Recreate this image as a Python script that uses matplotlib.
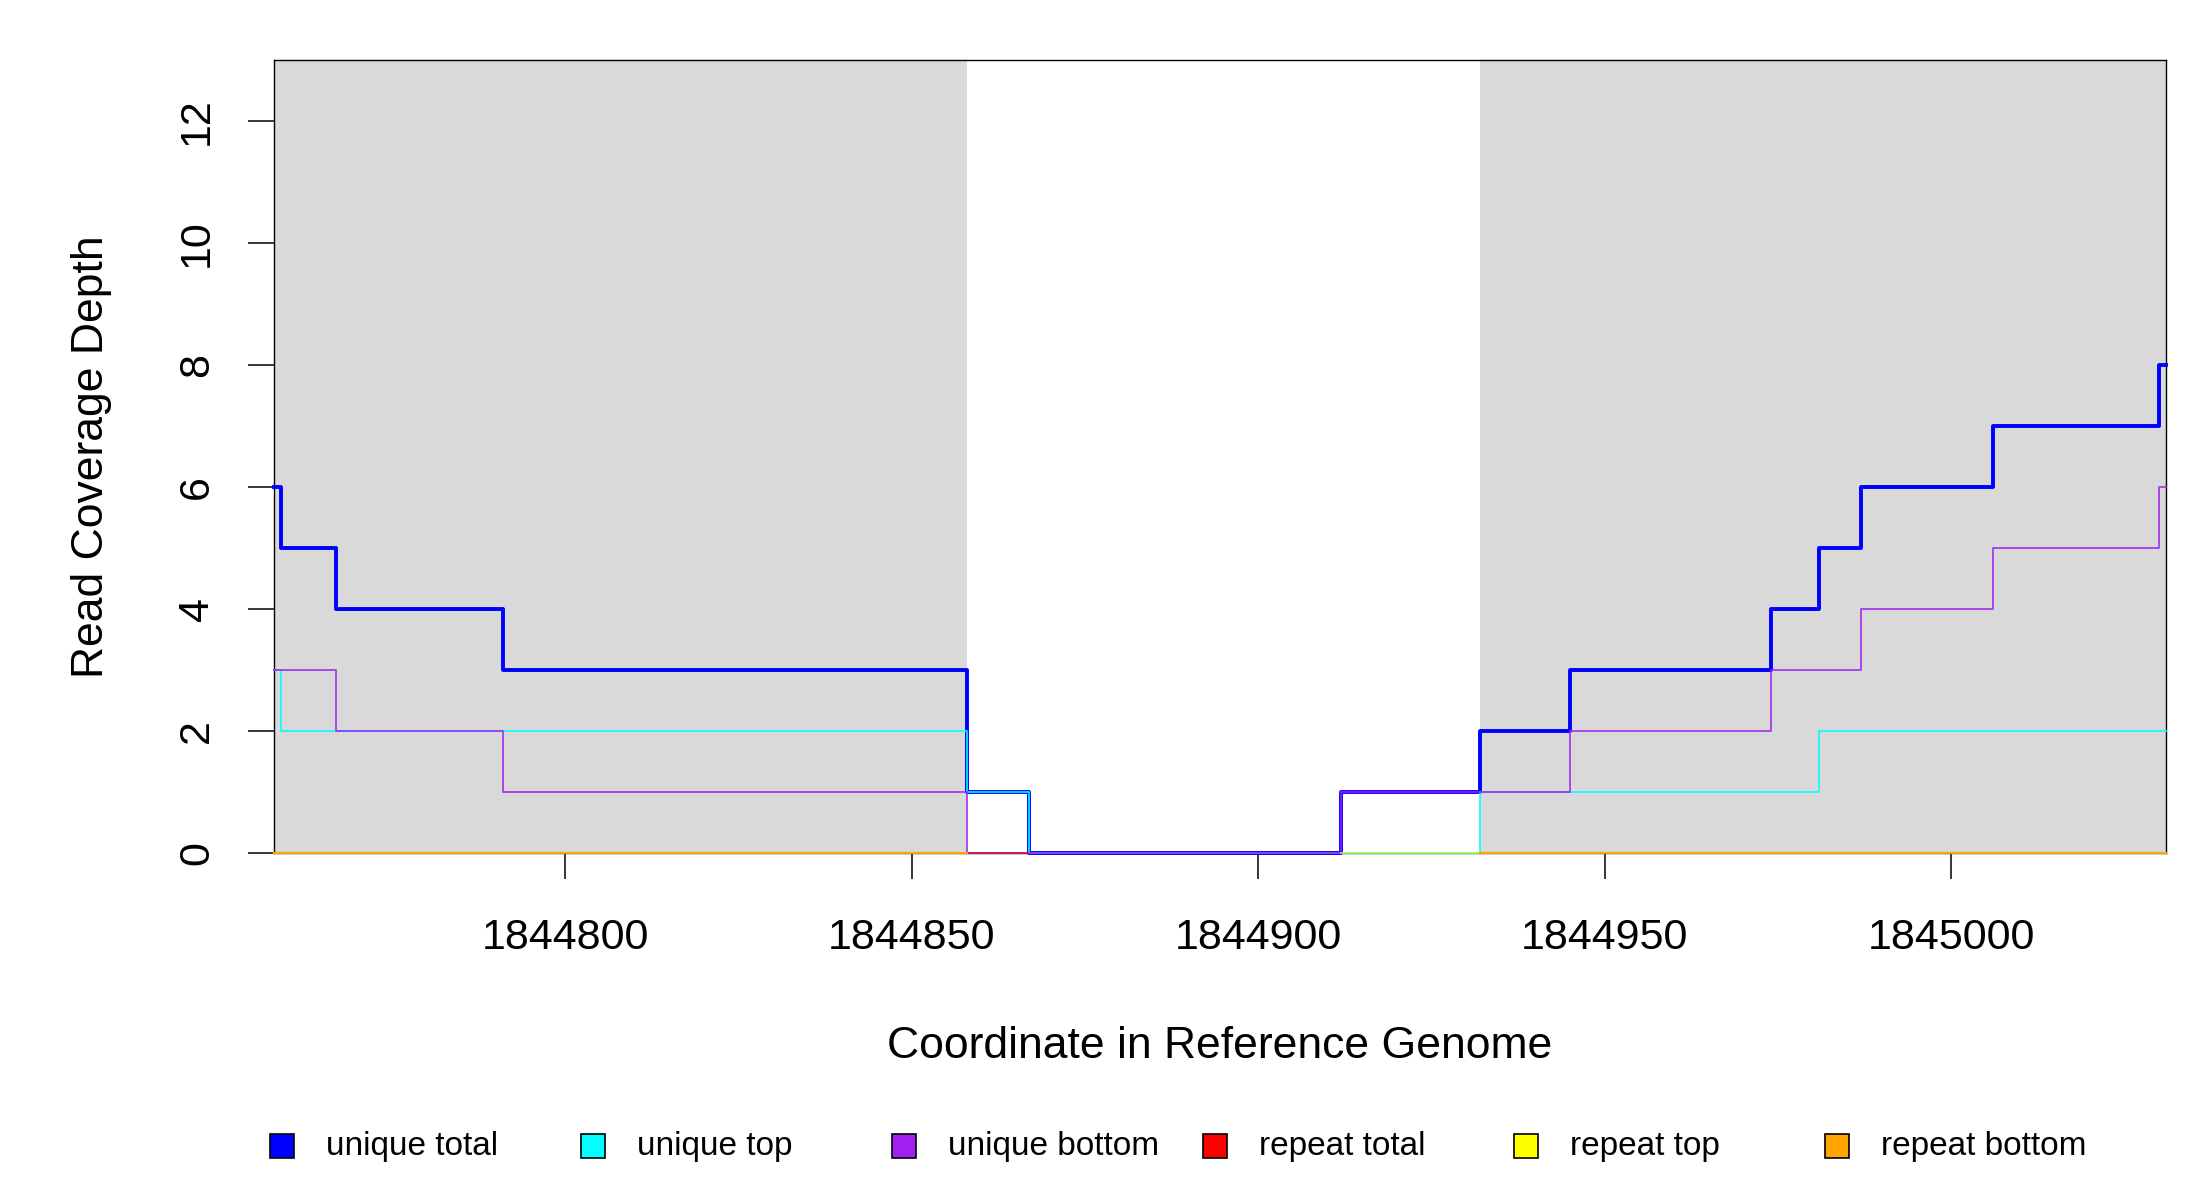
#!/usr/bin/env python3
# Read coverage depth around a locus: unique / repeat reads, stepped coverage
import numpy as np
import matplotlib
matplotlib.use("Agg")
import matplotlib.pyplot as plt
from matplotlib.patches import Rectangle

plt.rcParams['font.family'] = ['Liberation Sans', 'DejaVu Sans']

# ---------------------------------------------------------------------------
# Data
# ---------------------------------------------------------------------------
x_start, x_end = 1844758, 1845031

# shaded (grey) regions
shade_starts = [1844758, 1844932]
shade_ends = [1844858, 1845031]

# step breakpoints (value holds until next breakpoint)
unique_total_x = [1844758, 1844759, 1844767, 1844791, 1844858, 1844867, 1844912,
                  1844932, 1844945, 1844974, 1844981, 1844987, 1845006, 1845030, 1845031]
unique_total_y = [6, 5, 4, 3, 1, 0, 1, 2, 3, 4, 5, 6, 7, 8, 8]

unique_top_x = [1844758, 1844759, 1844858, 1844867, 1844932, 1844981, 1845031]
unique_top_y = [3, 2, 1, 0, 1, 2, 2]

unique_bottom_x = [1844758, 1844767, 1844791, 1844858, 1844912, 1844945, 1844974,
                   1844987, 1845006, 1845030, 1845031]
unique_bottom_y = [3, 2, 1, 0, 1, 2, 3, 4, 5, 6, 6]

# repeat coverage is zero where present (NaN = not drawn)
repeat_total_x = [1844758, 1844867, np.nan, 1844932, 1845031]
repeat_total_y = [0, 0, np.nan, 0, 0]
repeat_top_x = [1844758, 1844858, np.nan, 1844912, 1845031]
repeat_top_y = [0, 0, np.nan, 0, 0]
repeat_bottom_x = [1844758, 1844858, np.nan, 1844932, 1845031]
repeat_bottom_y = [0, 0, np.nan, 0, 0]

labels = ["unique total", "unique top", "unique bottom",
          "repeat total", "repeat top", "repeat bottom"]
colors = ["#0000FF", "#00FFFF", "#A020F0", "#FF0000", "#FFFF00", "#FFA500"]

x_ticks = [1844800, 1844850, 1844900, 1844950, 1845000]
y_ticks = [0, 2, 4, 6, 8, 10, 12]

# ---------------------------------------------------------------------------
# Figure
# ---------------------------------------------------------------------------
W, H = 2200, 1200
fig = plt.figure(figsize=(22, 12), dpi=100)
ax_l, ax_r, ax_t, ax_b = 274, 2166, 60, 853
ax = fig.add_axes([ax_l / W, 1 - ax_b / H, (ax_r - ax_l) / W, (ax_b - ax_t) / H])

for s, e in zip(shade_starts, shade_ends):
    ax.axvspan(s, e, color="#D9D9D9", lw=0, zorder=0)

ax.step(unique_total_x, unique_total_y, where='post', color=colors[0], lw=2.8,
        zorder=3, clip_on=False)
ax.step(unique_top_x, unique_top_y, where='post', color=colors[1], lw=1.4, alpha=0.85,
        zorder=4, clip_on=False)
ax.step(unique_bottom_x, unique_bottom_y, where='post', color=colors[2], lw=1.4, alpha=0.8,
        zorder=5, clip_on=False)
ax.plot(repeat_total_x, repeat_total_y, color=colors[3], lw=1.4, alpha=0.55, zorder=6,
        clip_on=False)
ax.plot(repeat_top_x, repeat_top_y, color=colors[4], lw=1.4, alpha=0.55, zorder=7,
        clip_on=False)
ax.plot(repeat_bottom_x, repeat_bottom_y, color=colors[5], lw=1.6, alpha=0.95, zorder=8,
        clip_on=False)

ax.set_xlim(x_start, x_end)
ax.set_ylim(0, 13)

ax.set_xticks(x_ticks)
ax.set_xticklabels([str(t) for t in x_ticks])
ax.set_yticks(y_ticks)
ax.set_yticklabels([str(t) for t in y_ticks], rotation=90, va='center')
ax.tick_params(axis='both', direction='out', length=19, width=1.1, labelsize=31,
               color='black')
ax.tick_params(axis='x', pad=28)
ax.tick_params(axis='y', pad=22)

for sp in ax.spines.values():
    sp.set_linewidth(1.0)
    sp.set_color('black')
    sp.set_zorder(2)

ax.set_xlabel("Coordinate in Reference Genome", fontsize=32)
ax.set_ylabel("Read Coverage Depth", fontsize=32)
ax.xaxis.set_label_coords(0.5, (ax_b - 1047) / (ax_b - ax_t))
ax.xaxis.label.set_va('center')
ax.yaxis.set_label_coords((92 - ax_l) / (ax_r - ax_l), 0.5)
ax.yaxis.label.set_va('center')

# legend drawn along the bottom, evenly spaced like the original
leg_y = 1 - 1146 / H
box = 24
for i, (lab, col) in enumerate(zip(labels, colors)):
    cx = 282 + i * 311
    fig.patches.append(Rectangle(((cx - box / 2) / W, leg_y - box / 2 / H), box / W, box / H,
                                 transform=fig.transFigure, facecolor=col,
                                 edgecolor='black', lw=1.2))
    fig.text((cx + 44) / W, leg_y, lab, fontsize=24, va='center', ha='left')

fig.savefig("out.png", dpi=100)
